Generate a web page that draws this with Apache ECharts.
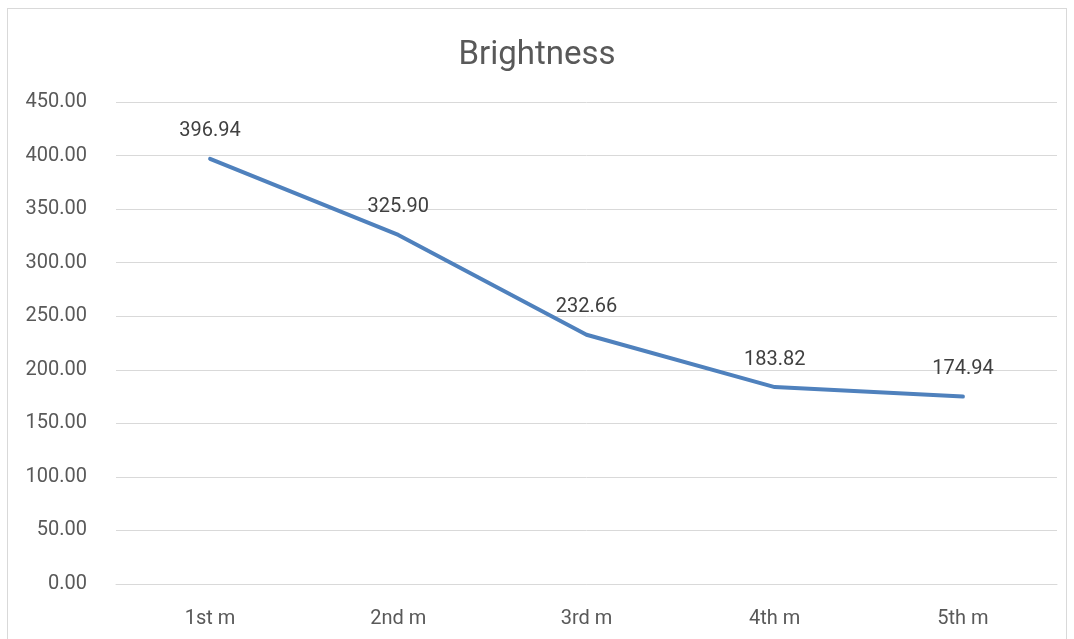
<!DOCTYPE html>
<html>
<head>
<meta charset="utf-8">
<script src="https://cdn.jsdelivr.net/npm/echarts@6/dist/echarts.min.js"></script>
<style>
html,body{margin:0;padding:0;background:#fff;}
#frame{position:absolute;left:7px;top:8px;width:1060px;height:640px;border:1px solid #d9d9d9;box-sizing:border-box;}
#chart{position:absolute;left:0;top:0;width:1074px;height:639px;}
</style>
</head>
<body>
<div id="frame"></div>
<div id="chart"></div>
<script>
const categories = ['1st m', '2nd m', '3rd m', '4th m', '5th m'];
const brightness = [396.94, 325.90, 232.66, 183.82, 174.94];
const yTicks = { min: 0, max: 450, interval: 50 };
const titleText = 'Brightness';

const chart = echarts.init(document.getElementById('chart'), null, { renderer: 'canvas' });
const font = 'Roboto, "Noto Sans", sans-serif';
chart.setOption({
  animation: false,
  title: {
    text: titleText,
    left: 'center',
    top: 34,
    textStyle: { fontFamily: font, fontSize: 33, fontWeight: 'normal', color: '#595959' }
  },
  grid: { left: 116, right: 17, top: 102, bottom: 55 },
  xAxis: {
    type: 'category',
    data: categories,
    boundaryGap: true,
    axisLine: { show: true, lineStyle: { color: '#d9d9d9', width: 1 } },
    axisTick: { show: false },
    axisLabel: { fontFamily: font, fontSize: 20, color: '#595959', margin: 25 }
  },
  yAxis: {
    type: 'value',
    min: yTicks.min,
    max: yTicks.max,
    interval: yTicks.interval,
    axisLine: { show: false },
    axisTick: { show: false },
    splitLine: { lineStyle: { color: '#d9d9d9', width: 1 } },
    axisLabel: {
      fontFamily: font, fontSize: 20, color: '#595959', margin: 29,
      padding: [6, 0, 0, 0],
      formatter: v => v.toFixed(2)
    }
  },
  series: [{
    type: 'line',
    data: brightness,
    symbol: 'circle',
    symbolSize: 1,
    showSymbol: true,
    lineStyle: { color: '#4F81BD', width: 4, cap: 'round' },
    itemStyle: { color: 'rgba(0,0,0,0)' },
    label: {
      show: true,
      position: 'top',
      distance: 17,
      fontFamily: font,
      fontSize: 20,
      color: '#404040',
      formatter: p => p.value.toFixed(2)
    }
  }]
});
</script>
</body>
</html>
